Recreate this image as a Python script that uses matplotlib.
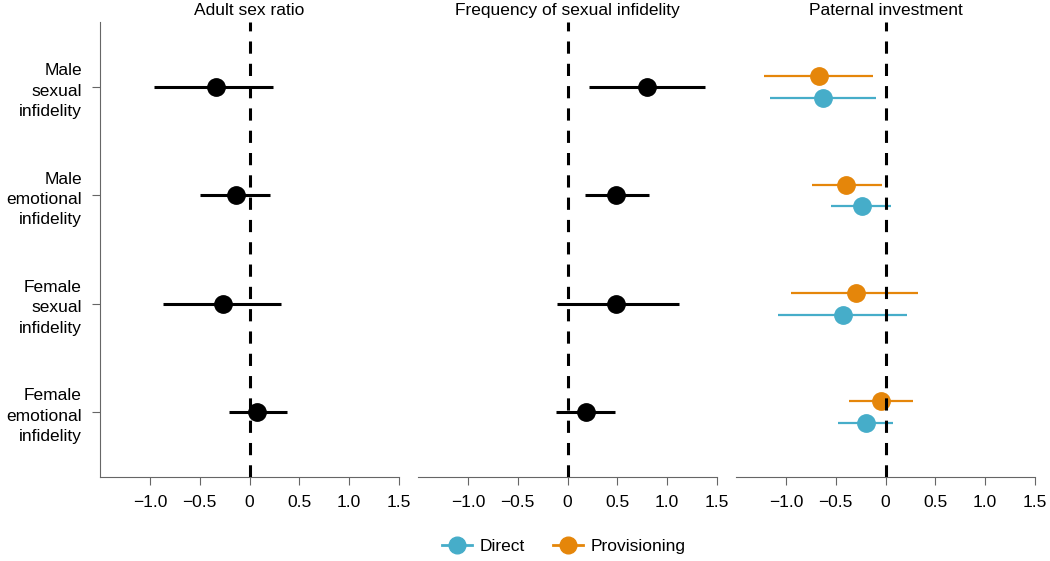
import matplotlib.pyplot as plt
from matplotlib.lines import Line2D
import numpy as np

plt.rcParams['font.family'] = ['Liberation Sans', 'DejaVu Sans']
plt.rcParams['font.size'] = 12.5

categories = ["Male\nsexual\ninfidelity", "Male\nemotional\ninfidelity",
              "Female\nsexual\ninfidelity", "Female\nemotional\ninfidelity"]
panel_titles = ["Adult sex ratio", "Frequency of sexual infidelity", "Paternal investment"]
tick_vals = [-1.0, -0.5, 0, 0.5, 1.0, 1.5]
tick_labels = ["\u22121.0", "\u22120.5", "0", "0.5", "1.0", "1.5"]

# adult sex ratio
asr_est = [-0.34, -0.14, -0.27, 0.08]
asr_lo = [-0.96, -0.50, -0.87, -0.21]
asr_hi = [0.24, 0.21, 0.32, 0.38]

# frequency of sexual infidelity
freq_est = [0.80, 0.49, 0.49, 0.19]
freq_lo = [0.22, 0.18, -0.11, -0.12]
freq_hi = [1.38, 0.82, 1.12, 0.48]

# paternal investment - direct
dir_est = [-0.63, -0.24, -0.43, -0.20]
dir_lo = [-1.16, -0.55, -1.08, -0.48]
dir_hi = [-0.10, 0.06, 0.22, 0.08]

# paternal investment - provisioning
prov_est = [-0.67, -0.40, -0.30, -0.05]
prov_lo = [-1.22, -0.74, -0.95, -0.37]
prov_hi = [-0.13, -0.04, 0.33, 0.28]

blue = "#46adc9"
orange = "#e5860a"

fig = plt.figure(figsize=(10.5, 5.61), dpi=100)
lefts = [100, 418, 736]
axes = []
for l in lefts:
    ax = fig.add_axes([l / 1050, 1 - 477 / 561, 299 / 1050, 455 / 561])
    axes.append(ax)

y = np.arange(1, 5)


def errbars(ax, est, lo, hi, yy, color, lw, ms):
    est = np.array(est)
    err = [est - np.array(lo), np.array(hi) - est]
    ax.errorbar(est, yy, xerr=err, fmt='o', color=color, ecolor=color,
                elinewidth=lw, capsize=0, markersize=ms, zorder=3)


errbars(axes[0], asr_est, asr_lo, asr_hi, y, 'black', 2.2, 12.5)
errbars(axes[1], freq_est, freq_lo, freq_hi, y, 'black', 2.2, 12.5)
errbars(axes[2], dir_est, dir_lo, dir_hi, y + 0.1, blue, 1.6, 12.5)
errbars(axes[2], prov_est, prov_lo, prov_hi, y - 0.1, orange, 1.6, 12.5)

for i, ax in enumerate(axes):
    ax.axvline(0, color='black', lw=2.2, linestyle=(0, (4, 3.3)), zorder=4)
    ax.set_xlim(-1.5, 1.5)
    ax.set_ylim(4.6, 0.4)
    ax.set_xticks(tick_vals)
    ax.set_xticklabels(tick_labels)
    ax.tick_params(axis='x', length=6, width=0.8, color='#666666', pad=7)
    ax.set_title(panel_titles[i], fontsize=12.5, pad=5)
    ax.spines['top'].set_visible(False)
    ax.spines['right'].set_visible(False)
    ax.spines['bottom'].set_color('#666666')
    ax.spines['left'].set_color('#666666')
    if i == 0:
        ax.set_yticks(y)
        ax.set_yticklabels(categories, linespacing=1.45)
        ax.tick_params(axis='y', length=6, width=0.8, color='#666666', pad=7)
    else:
        ax.spines['left'].set_visible(False)
        ax.set_yticks([])

handles = [Line2D([], [], color=blue, lw=2, marker='o', markersize=12, label="Direct"),
           Line2D([], [], color=orange, lw=2, marker='o', markersize=12, label="Provisioning")]
fig.legend(handles=handles, loc='center', bbox_to_anchor=(0.537, 0.026),
           ncol=2, frameon=False, handlelength=1.75, columnspacing=1.6, handletextpad=0.45)

plt.savefig("out.png", dpi=100)
